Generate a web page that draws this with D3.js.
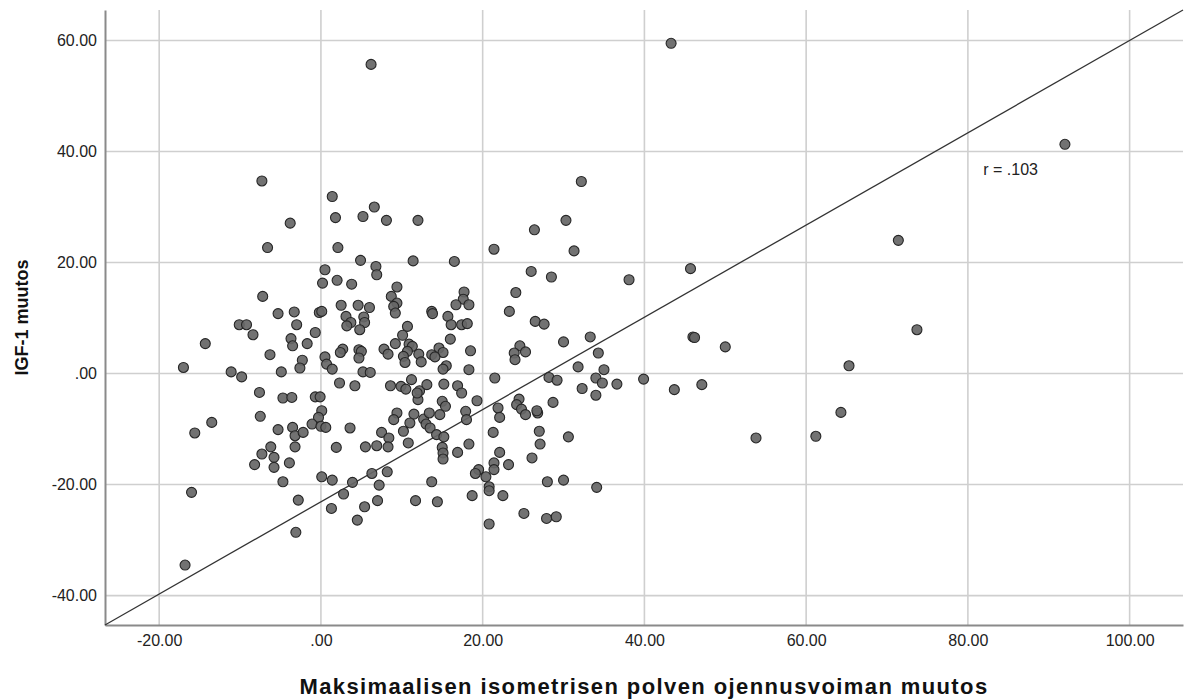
<!DOCTYPE html>
<html>
<head>
<meta charset="utf-8">
<script src="https://cdn.jsdelivr.net/npm/d3@7"></script>
<style>
    body { margin: 0; background: #ffffff; }
    svg { display: block; font-family: Arial, "Liberation Sans", sans-serif; }
</style>
</head>
<body>
<div id="chart"></div>
<script>
// Muutos (x) ja IGF-1 muutos (y), luettu kuvasta
const kneeChange = [
    6.2, 43.3, 92.0, 71.4, 73.7, 65.3, 64.3, 61.2, 53.8, 50.0, 47.1, 46.0, 46.2, 45.7, 43.7, 39.9, 38.1,
    32.2, 30.3, 26.4, 31.3, 26.0, 28.5, 26.5, 27.6, 30.0, 33.3, 34.3, 31.8, 35.0, 28.2, 29.2, 34.0, 34.8,
    36.6, 32.3, 34.0, 28.7, 26.8, 26.7, 27.0, 30.6, 27.1, 26.1, 28.0, 30.0, 34.1, 27.9, 29.1, 25.1,
    6.6, 5.2, 8.1, 12.0, 4.9, 11.4, 16.5, 6.8, 6.9, 3.8, 9.4, 8.7, 9.4, 9.0, 4.6, 6.0, 17.7, 17.6, 16.7,
    18.3, 13.7, 21.4, 24.1, 23.3,
    9.2, 3.1, 3.7, 5.3, 5.4, 4.8, 3.2, 10.7, 10.1, 9.2, 10.9, 11.3, 7.8, 8.3, 10.7, 12.1, 10.2, 12.4, 10.4,
    4.7, 5.0, 4.7, 2.7, 13.8, 15.7, 16.1, 17.4, 18.1, 16.0, 18.5, 14.6, 15.1, 13.7, 14.1, 15.5, 15.1, 18.3,
    5.2, 6.1, 2.3, 4.2, 8.6, 9.9, 10.5, 11.2, 12.2, 13.1, 12.0, 15.2, 16.9, 17.4, 15.0, 15.4, 19.3, 21.5,
    24.6, 23.9, 25.3, 24.0, 24.5, 24.2, 24.8, 25.3, 21.9, 22.1, 21.3, 9.4, 9.0, 11.5, 11.0, 12.7, 13.4,
    14.7, 13.0, 13.5, 14.3, 15.2, 17.9, 18.0, 18.3, 7.5, 8.4, 3.6, 5.5, 6.9, 8.3, 10.2, 10.8, 11.9,
    15.0, 15.1, 15.1, 16.9, 22.1, 23.2, 21.4, 21.4, 19.5, 19.1, 20.4, 20.8, 20.8, 22.5, 18.7, 20.8, 8.2,
    6.3, 7.2, 3.9, 2.8, 13.7, 7.0, 5.4, 11.7, 14.4, 4.5,
    -7.3, 1.4, 1.8, -3.8, -6.6, 2.1, 0.5, 0.2, 2.0, -7.2, -5.3, -3.3, -0.2, 2.5, -10.1, -9.2, -3.0, -8.4,
    -0.7, -3.7, -3.5, -1.7, -14.3, -6.3, 0.5, -2.3, 0.7, -2.6, 1.4, -17.0, -11.1, -9.8, -4.9, -7.6, -4.7,
    -3.6, -0.7, -0.1, 0.1, -0.3, -7.5, -13.5, -15.6, -1.1, 0.0, 0.6, -5.3, -3.5, -3.2, -2.2, -6.2, -3.2,
    1.9, -7.3, -5.8, -8.2, -5.8, -3.9, -4.7, 0.1, 1.4, -16.0, -2.8, 1.3, -3.1, -16.8, 2.4, 0.1
];
const igfChange = [
    55.7, 59.5, 41.3, 24.0, 7.9, 1.4, -7.0, -11.3, -11.6, 4.8, -2.0, 6.6, 6.5, 18.9, -2.9, -1.0, 16.9,
    34.6, 27.6, 25.9, 22.1, 18.4, 17.4, 9.4, 8.9, 5.7, 6.6, 3.7, 1.2, 0.7, -0.7, -1.2, -0.8, -1.7,
    -1.9, -2.7, -3.9, -5.2, -7.1, -6.7, -10.4, -11.4, -12.7, -15.2, -19.5, -19.2, -20.5, -26.1, -25.8, -25.2,
    30.0, 28.3, 27.6, 27.6, 20.4, 20.3, 20.2, 19.3, 17.8, 16.1, 15.6, 13.9, 12.7, 12.1, 12.3, 11.9, 14.7, 13.4, 12.4,
    12.4, 11.2, 22.4, 14.6, 11.2,
    10.9, 10.3, 9.2, 10.2, 9.2, 7.9, 8.6, 8.5, 6.9, 5.4, 5.3, 4.9, 4.4, 3.5, 4.0, 3.5, 3.1, 2.1, 2.0,
    4.3, 4.0, 2.8, 4.4, 10.8, 10.3, 8.8, 8.8, 9.0, 6.2, 4.1, 4.6, 3.8, 3.4, 3.0, 1.4, 0.8, 0.7,
    0.3, 0.2, -1.7, -2.2, -2.2, -2.3, -2.8, -1.1, -3.1, -2.0, -4.7, -1.9, -2.2, -3.5, -5.0, -5.9, -4.9, -0.8,
    5.0, 3.7, 3.9, 2.5, -4.6, -5.6, -6.4, -7.4, -6.2, -7.9, -10.6, -7.1, -8.3, -7.3, -8.9, -8.2, -7.1,
    -7.4, -9.1, -9.8, -11.0, -11.4, -6.8, -8.3, -12.7, -10.6, -11.6, -9.8, -13.2, -13.0, -13.2, -10.4, -12.5, -3.5,
    -13.3, -14.3, -15.4, -14.2, -14.2, -16.4, -16.1, -17.3, -17.3, -18.0, -18.6, -20.4, -21.1, -22.0, -22.0, -27.1, -17.7,
    -18.0, -20.1, -19.6, -21.7, -19.5, -22.9, -24.0, -22.9, -23.1, -26.4,
    34.7, 31.9, 28.1, 27.1, 22.7, 22.7, 18.7, 16.3, 16.8, 13.9, 10.8, 11.1, 11.0, 12.3, 8.8, 8.8, 8.8, 7.0,
    7.4, 6.3, 5.0, 5.4, 5.4, 3.4, 3.0, 2.4, 1.7, 1.0, 0.8, 1.1, 0.3, -0.6, 0.3, -3.4, -4.4,
    -4.3, -4.2, -4.2, -6.7, -7.9, -7.7, -8.8, -10.7, -9.1, -9.5, -9.7, -10.1, -9.7, -11.2, -10.6, -13.2, -13.2,
    -13.3, -14.5, -15.1, -16.4, -16.9, -16.1, -19.5, -18.6, -19.2, -21.4, -22.8, -24.3, -28.6, -34.5, 3.8, 11.2
];

const xTicks = [-20, 0, 20, 40, 60, 80, 100];
const yTicks = [-40, -20, 0, 20, 40, 60];
const xDomain = [-26.7, 106.6];
const yDomain = [-45.3, 65.5];
const rLabel = "r = .103";
const rLabelAt = [81.9, 35.8];

let data = kneeChange.map((d, i) => ({x: d, y: igfChange[i]}));

let width = 1186;
let height = 699;
let margin = {top: 10, right: 3, bottom: 74, left: 105};

let svg = d3.select("#chart")
    .append("svg")
    .attr("width", width)
    .attr("height", height);

let x = d3.scaleLinear()
    .domain(xDomain)
    .range([margin.left, width - margin.right]);

let y = d3.scaleLinear()
    .domain(yDomain)
    .range([height - margin.bottom, margin.top]);

// SPSS-tyyliin: nolla ilman etunollaa
let fmt = v => v === 0 ? ".00" : d3.format(".2f")(v).replace("−", "-");

// Gridlines
svg.append("g")
    .selectAll("line")
    .data(xTicks)
    .join("line")
    .attr("x1", d => x(d))
    .attr("x2", d => x(d))
    .attr("y1", margin.top)
    .attr("y2", height - margin.bottom)
    .attr("stroke", "#cfcfcf")
    .attr("stroke-width", 1.6);

svg.append("g")
    .selectAll("line")
    .data(yTicks)
    .join("line")
    .attr("x1", margin.left)
    .attr("x2", width - margin.right)
    .attr("y1", d => y(d))
    .attr("y2", d => y(d))
    .attr("stroke", "#cfcfcf")
    .attr("stroke-width", 1.6);

// Axes
let xAxis = svg.append("g")
    .attr("transform", `translate(0,${height - margin.bottom})`)
    .call(d3.axisBottom(x).tickValues(xTicks).tickFormat(fmt).tickSize(0).tickPadding(10));

let yAxis = svg.append("g")
    .attr("transform", `translate(${margin.left},0)`)
    .call(d3.axisLeft(y).tickValues(yTicks).tickFormat(fmt).tickSize(0).tickPadding(8));

[xAxis, yAxis].forEach(a => {
    a.select(".domain")
        .attr("stroke", "#8a8a8a")
        .attr("stroke-width", 2);
    a.selectAll("text")
        .attr("fill", "#222")
        .style("font-size", "16px")
        .style("font-family", "Arial, 'Liberation Sans', sans-serif");
});

// Reference line across the plot area
svg.append("line")
    .attr("x1", x(xDomain[0]))
    .attr("y1", y(yDomain[0]))
    .attr("x2", x(xDomain[1]))
    .attr("y2", y(yDomain[1]))
    .attr("stroke", "#333")
    .attr("stroke-width", 1.3);

// Points
svg.append("g")
    .selectAll("circle")
    .data(data)
    .join("circle")
    .attr("cx", d => x(d.x))
    .attr("cy", d => y(d.y))
    .attr("r", 5)
    .attr("fill", "#666666")
    .attr("fill-opacity", 0.92)
    .attr("stroke", "#262626")
    .attr("stroke-width", 1.1);

svg.append("text")
    .attr("x", x(rLabelAt[0]))
    .attr("y", y(rLabelAt[1]))
    .attr("fill", "#222")
    .style("font-size", "16px")
    .text(rLabel);

// Axis titles
svg.append("text")
    .attr("x", (margin.left + width - margin.right) / 2)
    .attr("y", 694)
    .attr("text-anchor", "middle")
    .attr("fill", "#111")
    .style("font-size", "22px")
    .style("letter-spacing", "1.4px")
    .style("font-weight", "bold")
    .text("Maksimaalisen isometrisen polven ojennusvoiman muutos");

svg.append("text")
    .attr("transform", `translate(28,${(margin.top + height - margin.bottom) / 2}) rotate(-90)`)
    .attr("text-anchor", "middle")
    .attr("fill", "#111")
    .style("font-size", "18px")
    .style("font-weight", "bold")
    .text("IGF-1 muutos");
</script>
</body>
</html>
